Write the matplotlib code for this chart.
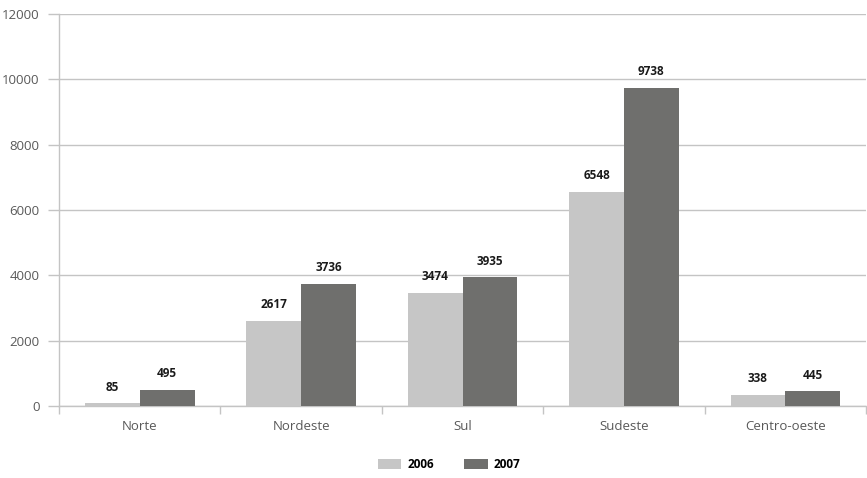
import numpy as np
import matplotlib.pyplot as plt

plt.rcParams['font.family'] = ['Open Sans', 'DejaVu Sans']

regions = ["Norte", "Nordeste", "Sul", "Sudeste", "Centro-oeste"]
values_2006 = [85, 2617, 3474, 6548, 338]
values_2007 = [495, 3736, 3935, 9738, 445]
years = ["2006", "2007"]

color_2006 = "#c6c6c6"
color_2007 = "#6f6f6d"
axis_gray = "#c4c4c4"
text_gray = "#595959"

fig = plt.figure(figsize=(8.67, 4.78), dpi=100)
ax = fig.add_axes([0.068, 0.1506, 0.931, 0.82])

x = np.arange(len(regions))
width = 0.34

bars_a = ax.bar(x - width / 2, values_2006, width, color=color_2006, label=years[0], zorder=3)
bars_b = ax.bar(x + width / 2, values_2007, width, color=color_2007, label=years[1], zorder=3)

# value labels above each bar
for bars in (bars_a, bars_b):
    for b in bars:
        h = b.get_height()
        ax.annotate(f"{int(h)}", (b.get_x() + b.get_width() / 2, h),
                    xytext=(0, 7), textcoords="offset points",
                    ha="center", va="bottom", fontsize=8.5, fontweight="bold",
                    color="#1a1a1a")

ax.set_xlim(-0.5, len(regions) - 0.5)
ax.set_ylim(0, 12000)
ax.set_yticks(np.arange(0, 12001, 2000))
ax.yaxis.grid(True, color=axis_gray, linewidth=1, zorder=0)

ax.set_xticks(x)
ax.set_xticklabels(regions)
ax.set_xticks(np.arange(-0.5, len(regions), 1), minor=True)
ax.tick_params(axis="x", which="major", length=0, pad=10, labelsize=9.5, labelcolor=text_gray)
ax.tick_params(axis="x", which="minor", length=6, color=axis_gray, width=1)
ax.tick_params(axis="y", length=8, color=axis_gray, width=1, pad=6, labelsize=9.5, labelcolor=text_gray)

for side in ("top", "right"):
    ax.spines[side].set_visible(False)
for side in ("left", "bottom"):
    ax.spines[side].set_color(axis_gray)
    ax.spines[side].set_linewidth(1)

fig.legend(loc="lower center", bbox_to_anchor=(0.518, -0.008), ncol=2, frameon=False,
           handlelength=2.0, handleheight=1.0, handletextpad=0.5, columnspacing=2.6,
           prop={"size": 8.5, "weight": "bold"})

fig.savefig("out.png", dpi=100)
